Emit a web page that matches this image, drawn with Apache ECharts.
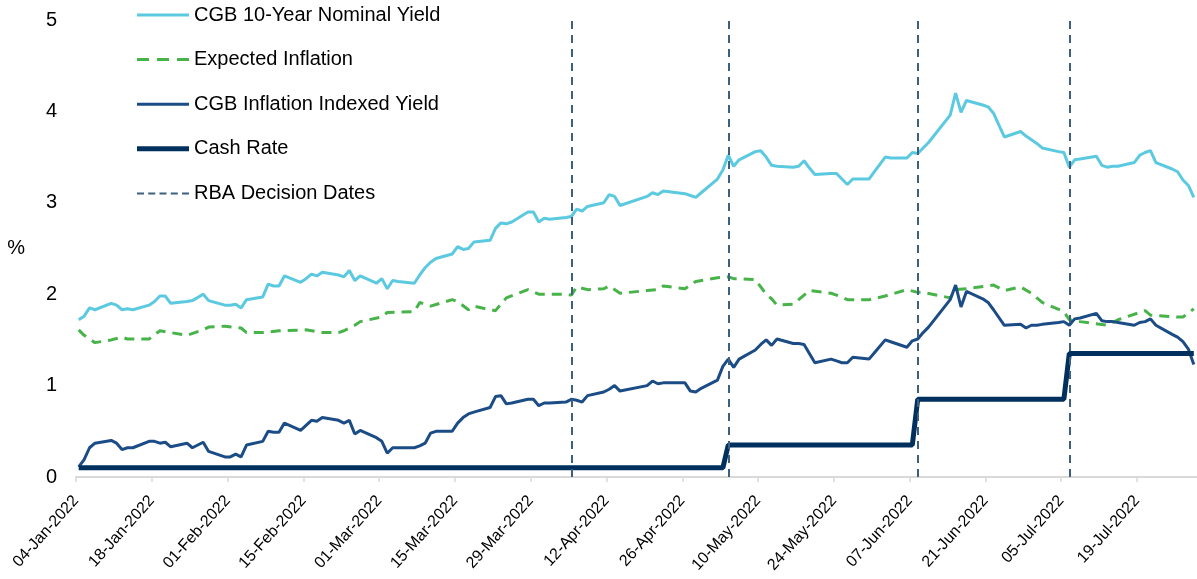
<!DOCTYPE html>
<html>
<head>
<meta charset="utf-8">
<script src="https://cdn.jsdelivr.net/npm/echarts@6/dist/echarts.min.js"></script>
<style>
html,body{margin:0;padding:0;background:#fff;}
#chart{width:1197px;height:579px;}
</style>
</head>
<body>
<div id="chart"></div>
<script>
// ---- Data (2022, MM-DD, %) ----
const startDate = '01-04';
const endDate = '07-30';
const tickStepDays = 14;
const yTicks = [0, 1, 2, 3, 4, 5];
const monthNames = ['Jan','Feb','Mar','Apr','May','Jun','Jul','Aug','Sep','Oct','Nov','Dec'];

const nominalYield = [
 ['01-04',1.72],['01-05',1.76],['01-06',1.85],['01-07',1.83],['01-10',1.90],['01-11',1.88],['01-12',1.83],['01-13',1.84],['01-14',1.83],
 ['01-17',1.88],['01-18',1.92],['01-19',1.98],['01-20',1.98],['01-21',1.90],['01-24',1.92],['01-25',1.93],['01-27',2.00],['01-28',1.93],
 ['01-31',1.88],['02-01',1.88],['02-02',1.89],['02-03',1.85],['02-04',1.94],['02-07',1.97],['02-08',2.11],['02-09',2.09],['02-10',2.09],
 ['02-11',2.20],['02-14',2.13],['02-15',2.17],['02-16',2.22],['02-17',2.20],['02-18',2.24],['02-21',2.21],['02-22',2.19],['02-23',2.26],
 ['02-24',2.15],['02-25',2.20],['02-28',2.12],['03-01',2.17],['03-02',2.06],['03-03',2.15],['03-04',2.14],['03-07',2.12],['03-08',2.21],
 ['03-09',2.29],['03-10',2.35],['03-11',2.39],['03-14',2.44],['03-15',2.52],['03-16',2.49],['03-17',2.50],['03-18',2.57],['03-21',2.59],
 ['03-22',2.72],['03-23',2.78],['03-24',2.77],['03-25',2.79],['03-28',2.90],['03-29',2.90],['03-30',2.79],['03-31',2.83],['04-01',2.82],
 ['04-04',2.84],['04-05',2.85],['04-06',2.93],['04-07',2.91],['04-08',2.96],['04-11',3.00],['04-12',3.09],['04-13',3.07],['04-14',2.97],
 ['04-19',3.07],['04-20',3.11],['04-21',3.09],['04-22',3.13],['04-26',3.10],['04-27',3.08],['04-28',3.06],['04-29',3.11],['05-02',3.26],
 ['05-03',3.36],['05-04',3.52],['05-05',3.40],['05-06',3.47],['05-09',3.56],['05-10',3.57],['05-11',3.50],['05-12',3.41],['05-13',3.40],
 ['05-16',3.39],['05-17',3.40],['05-18',3.46],['05-19',3.38],['05-20',3.31],['05-23',3.32],['05-24',3.32],['05-25',3.26],['05-26',3.20],
 ['05-27',3.26],['05-30',3.26],['05-31',3.34],['06-01',3.42],['06-02',3.50],['06-03',3.49],['06-06',3.49],['06-07',3.55],['06-08',3.54],
 ['06-09',3.60],['06-10',3.66],['06-14',3.96],['06-15',4.20],['06-16',3.99],['06-17',4.12],['06-20',4.07],['06-21',4.05],['06-22',3.98],
 ['06-23',3.85],['06-24',3.72],['06-27',3.78],['06-28',3.73],['06-29',3.69],['06-30',3.65],['07-01',3.60],['07-04',3.56],['07-05',3.55],
 ['07-06',3.39],['07-07',3.47],['07-08',3.48],['07-11',3.51],['07-12',3.41],['07-13',3.39],['07-14',3.40],['07-15',3.40],['07-18',3.44],
 ['07-19',3.52],['07-20',3.55],['07-21',3.57],['07-22',3.44],['07-25',3.37],['07-26',3.34],['07-27',3.25],['07-28',3.19],['07-29',3.06]
];

const expectedInflation = [
 ['01-04',1.61],['01-05',1.55],['01-07',1.47],['01-10',1.50],['01-12',1.53],['01-13',1.51],['01-17',1.51],['01-19',1.60],['01-24',1.55],
 ['01-27',1.61],['01-28',1.64],['01-31',1.65],['02-03',1.63],['02-04',1.58],['02-07',1.58],['02-10',1.60],['02-15',1.61],['02-18',1.58],
 ['02-21',1.58],['02-22',1.60],['02-24',1.66],['02-25',1.70],['03-01',1.75],['03-02',1.80],['03-07',1.81],['03-08',1.91],['03-10',1.87],
 ['03-14',1.94],['03-15',1.92],['03-17',1.83],['03-18',1.87],['03-21',1.83],['03-22',1.82],['03-24',1.96],['03-28',2.05],['03-30',2.00],
 ['04-01',2.00],['04-04',2.00],['04-05',1.99],['04-06',2.08],['04-08',2.05],['04-11',2.06],['04-12',2.09],['04-14',2.01],['04-19',2.04],
 ['04-21',2.05],['04-22',2.09],['04-26',2.06],['04-28',2.14],['05-02',2.18],['05-04',2.19],['05-05',2.17],['05-09',2.16],['05-10',2.08],
 ['05-11',2.00],['05-12',1.95],['05-13',1.88],['05-16',1.89],['05-18',1.99],['05-19',2.04],['05-23',2.01],['05-24',1.99],['05-26',1.94],
 ['05-30',1.94],['06-02',1.98],['06-06',2.05],['06-08',2.02],['06-09',2.02],['06-14',1.96],['06-15',2.05],['06-17',2.06],['06-22',2.10],
 ['06-24',2.04],['06-27',2.08],['06-29',2.01],['07-01',1.91],['07-05',1.81],['07-06',1.72],['07-08',1.70],['07-13',1.66],['07-15',1.72],
 ['07-20',1.82],['07-21',1.77],['07-26',1.75],['07-27',1.75],['07-29',1.84]
];

const indexedYield = [
 ['01-04',0.11],['01-05',0.19],['01-06',0.32],['01-07',0.37],['01-10',0.40],['01-11',0.37],['01-12',0.30],['01-13',0.32],['01-14',0.32],
 ['01-17',0.39],['01-18',0.39],['01-19',0.37],['01-20',0.38],['01-21',0.33],['01-24',0.37],['01-25',0.32],['01-27',0.38],['01-28',0.28],
 ['01-31',0.22],['02-01',0.22],['02-02',0.25],['02-03',0.22],['02-04',0.35],['02-07',0.39],['02-08',0.50],['02-09',0.49],['02-10',0.49],
 ['02-11',0.59],['02-14',0.51],['02-16',0.62],['02-17',0.61],['02-18',0.65],['02-21',0.62],['02-22',0.59],['02-23',0.62],['02-24',0.47],
 ['02-25',0.51],['02-28',0.43],['03-01',0.39],['03-02',0.26],['03-03',0.32],['03-04',0.32],['03-07',0.32],['03-08',0.34],['03-09',0.37],
 ['03-10',0.48],['03-11',0.50],['03-14',0.50],['03-15',0.59],['03-16',0.65],['03-17',0.69],['03-18',0.71],['03-21',0.76],['03-22',0.88],
 ['03-23',0.89],['03-24',0.80],['03-25',0.81],['03-28',0.85],['03-29',0.85],['03-30',0.78],['03-31',0.81],['04-01',0.81],['04-04',0.82],
 ['04-05',0.85],['04-06',0.84],['04-07',0.82],['04-08',0.89],['04-11',0.93],['04-12',0.96],['04-13',1.00],['04-14',0.94],['04-19',1.00],
 ['04-20',1.05],['04-21',1.02],['04-22',1.03],['04-26',1.03],['04-27',0.94],['04-28',0.93],['04-29',0.97],['05-02',1.06],['05-03',1.21],
 ['05-04',1.29],['05-05',1.20],['05-06',1.29],['05-09',1.39],['05-10',1.45],['05-11',1.50],['05-12',1.44],['05-13',1.51],['05-16',1.46],
 ['05-17',1.46],['05-18',1.45],['05-20',1.25],['05-23',1.29],['05-24',1.27],['05-25',1.25],['05-26',1.25],['05-27',1.31],['05-30',1.29],
 ['05-31',1.36],['06-02',1.50],['06-03',1.48],['06-06',1.42],['06-07',1.49],['06-08',1.51],['06-09',1.58],['06-10',1.64],['06-14',1.94],
 ['06-15',2.10],['06-16',1.86],['06-17',2.03],['06-20',1.95],['06-21',1.91],['06-22',1.83],['06-24',1.66],['06-27',1.67],['06-28',1.63],
 ['06-29',1.66],['06-30',1.66],['07-01',1.67],['07-04',1.69],['07-05',1.70],['07-06',1.66],['07-07',1.73],['07-08',1.74],['07-11',1.79],
 ['07-12',1.71],['07-13',1.70],['07-14',1.70],['07-15',1.69],['07-18',1.66],['07-19',1.69],['07-20',1.70],['07-21',1.73],['07-22',1.66],
 ['07-25',1.56],['07-26',1.53],['07-27',1.48],['07-28',1.40],['07-29',1.23]
];

const cashRate = [
 ['01-04',0.10],['05-03',0.10],['05-04',0.35],['06-07',0.35],['06-08',0.85],['07-05',0.85],['07-06',1.35],['07-29',1.35]
];

const rbaDecisionDates = ['04-05','05-04','06-08','07-06'];

const seriesNames = ['CGB 10-Year Nominal Yield','Expected Inflation','CGB Inflation Indexed Yield','Cash Rate','RBA Decision Dates'];

// ---- Helpers ----
const DAY = 86400000;
const base = Date.UTC(2022, 0, 4);
function dayIndex(mmdd) {
  const p = mmdd.split('-').map(Number);
  return (Date.UTC(2022, p[0] - 1, p[1]) - base) / DAY;
}
// each daily observation sits in the middle of its day slot
function toPoints(arr) { return arr.map(function (d) { return [dayIndex(d[0]) + 0.5, d[1]]; }); }
function fmtDate(v) {
  const dt = new Date(base + Math.round(v) * DAY);
  const dd = String(dt.getUTCDate()).padStart(2, '0');
  return dd + '-' + monthNames[dt.getUTCMonth()] + '-' + dt.getUTCFullYear();
}
const xMax = dayIndex(endDate);
const tickValues = [];
for (let v = 0; v <= xMax; v += tickStepDays) tickValues.push(v);

const FONT = 'Liberation Sans, Arial, sans-serif';
const C_NOM = '#5BC9DF', C_INF = '#47B349', C_IDX = '#1B4C86', C_CASH = '#00305E', C_RBA = '#3D5F80';

const chart = echarts.init(document.getElementById('chart'), null, { renderer: 'canvas' });
chart.setOption({
  animation: false,
  backgroundColor: '#fff',
  textStyle: { fontFamily: FONT },
  grid: { left: 76, right: 0.5, top: 20, bottom: 102, containLabel: false },
  legend: {
    orient: 'vertical', left: 137, top: 4, padding: 0,
    itemWidth: 52, itemHeight: 6, itemGap: 22.6,
    itemStyle: { borderWidth: 0 },
    selectedMode: false,
    textStyle: { fontSize: 20, color: '#000', fontFamily: FONT, lineHeight: 22 },
    data: [
      { name: seriesNames[0], icon: 'path://M0,0M0,6M0,1.5h52v3h-52z' },
      { name: seriesNames[1], icon: 'path://M0,0M0,6M0,1.5h12v3h-12zM20,1.5h12v3h-12zM40,1.5h12v3h-12z' },
      { name: seriesNames[2], icon: 'path://M0,0M0,6M0,1.5h52v3h-52z' },
      { name: seriesNames[3], icon: 'path://M0,0M0,6M0,0.5h52v5h-52z' },
      { name: seriesNames[4], icon: 'path://M0,0M0,6M0,2h7v2h-7zM11.25,2h7v2h-7zM22.5,2h7v2h-7zM33.75,2h7v2h-7zM45,2h7v2h-7z' }
    ]
  },
  xAxis: {
    type: 'value', min: 0, max: xMax,
    splitLine: { show: false },
    axisLine: { show: true, lineStyle: { color: '#D9D9D9', width: 2 } },
    axisTick: { show: true, length: 5, lineStyle: { color: '#D9D9D9', width: 1.5 }, customValues: tickValues },
    axisLabel: { rotate: 48, fontSize: 16, color: '#000', margin: 21, fontFamily: FONT, customValues: tickValues, formatter: fmtDate }
  },
  yAxis: {
    type: 'value', min: yTicks[0], max: yTicks[yTicks.length - 1], interval: 1,
    name: '%', nameLocation: 'middle', nameRotate: 0, nameGap: 51,
    nameTextStyle: { fontSize: 20, color: '#000', fontFamily: FONT },
    splitLine: { show: false }, axisLine: { show: false }, axisTick: { show: false },
    axisLabel: { fontSize: 20, color: '#000', margin: 19, fontFamily: FONT }
  },
  series: [
    { name: seriesNames[0], type: 'line', symbol: 'none', data: toPoints(nominalYield), color: C_NOM, lineStyle: { color: C_NOM, width: 3 } },
    { name: seriesNames[1], type: 'line', symbol: 'none', data: toPoints(expectedInflation), color: C_INF, lineStyle: { color: C_INF, width: 3, type: [10, 7] } },
    { name: seriesNames[2], type: 'line', symbol: 'none', data: toPoints(indexedYield), color: C_IDX, lineStyle: { color: C_IDX, width: 3 } },
    { name: seriesNames[3], type: 'line', symbol: 'none', data: toPoints(cashRate), color: C_CASH, lineStyle: { color: C_CASH, width: 5 }, z: 3 },
    { name: seriesNames[4], type: 'line', symbol: 'none', data: [], color: C_RBA, lineStyle: { color: C_RBA, width: 2, type: [8, 6] },
      markLine: { silent: true, symbol: 'none', label: { show: false },
        lineStyle: { color: C_RBA, width: 2, type: [8, 6] },
        data: rbaDecisionDates.map(function (d) { return { xAxis: dayIndex(d) + 0.5 }; }) } }
  ]
});
</script>
</body>
</html>
